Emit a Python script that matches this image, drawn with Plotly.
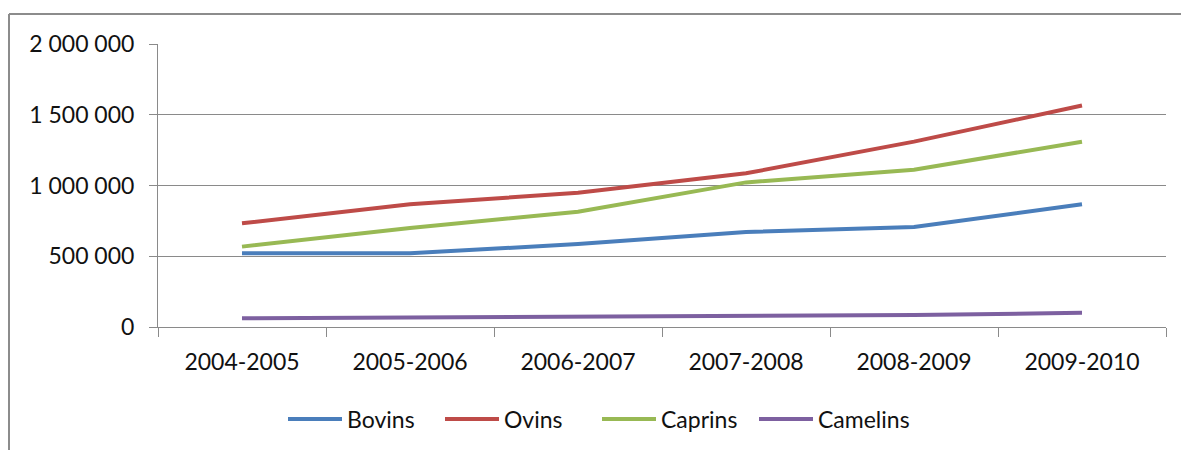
import plotly.graph_objects as go

categories = ["2004-2005", "2005-2006", "2006-2007", "2007-2008", "2008-2009", "2009-2010"]
bovins = [521000, 521000, 586000, 672000, 706000, 868000]
ovins = [733000, 868000, 948000, 1086000, 1310000, 1565000]
caprins = [568000, 700000, 815000, 1022000, 1112000, 1309000]
camelins = [61000, 67000, 73000, 80000, 84000, 100000]

series_names = ["Bovins", "Ovins", "Caprins", "Camelins"]
series_values = [bovins, ovins, caprins, camelins]
series_colors = ["#4A7EBB", "#BE4B48", "#98B954", "#7D60A0"]

y_tick_vals = [0, 500000, 1000000, 1500000, 2000000]
y_tick_text = ["0", "500 000", "1 000 000", "1 500 000", "2 000 000"]

W, H = 1181, 450
ML, MR, MT, MB = 158, 15, 44, 123
PW = W - ML - MR
PH = H - MT - MB

fig = go.Figure()
for name, vals, col in zip(series_names, series_values, series_colors):
    fig.add_trace(go.Scatter(
        x=categories, y=vals, name=name, mode="lines",
        line=dict(color=col, width=4),
    ))

font_family = "Lato, 'Open Sans', sans-serif"
grid_col = "#8a8a8a"

fig.update_layout(
    width=W, height=H,
    margin=dict(l=ML, r=MR, t=MT, b=MB, pad=0, autoexpand=False),
    paper_bgcolor="white", plot_bgcolor="white",
    font=dict(family=font_family, size=23, color="#111111"),
    showlegend=True,
    legend=dict(
        orientation="h", x=(283 - ML) / PW, xanchor="left",
        y=(MT + PH - 419) / PH, yanchor="middle",
        font=dict(size=23), itemwidth=54, traceorder="normal",
        entrywidth=88, entrywidthmode="pixels",
        bgcolor="rgba(0,0,0,0)",
    ),
    xaxis=dict(
        type="category", range=[-0.5, 5.5], showgrid=False,
        showline=True, linecolor=grid_col, linewidth=1,
        ticks="outside", ticklen=9, tickcolor=grid_col, tickwidth=1,
        tickson="boundaries", ticklabelstandoff=14, automargin=False,
        fixedrange=True,
    ),
    yaxis=dict(
        range=[0, 2000000], tickvals=y_tick_vals, ticktext=y_tick_text,
        showgrid=True, gridcolor=grid_col, gridwidth=1,
        showline=True, linecolor=grid_col, linewidth=1,
        ticks="outside", ticklen=8, tickcolor=grid_col, tickwidth=1,
        ticklabelstandoff=10, zeroline=False, automargin=False,
    ),
    shapes=[
        dict(type="line", xref="paper", yref="paper",
             x0=(9 - ML) / PW, x1=(W + 5 - ML) / PW,
             y0=(MT + PH - 14) / PH, y1=(MT + PH - 14) / PH,
             line=dict(color="#8c8c8c", width=2)),
        dict(type="line", xref="paper", yref="paper",
             x0=(9 - ML) / PW, x1=(9 - ML) / PW,
             y0=(MT + PH - 14) / PH, y1=(MT + PH - H - 5) / PH,
             line=dict(color="#8c8c8c", width=2)),
    ],
)

fig.write_html("out.html")
